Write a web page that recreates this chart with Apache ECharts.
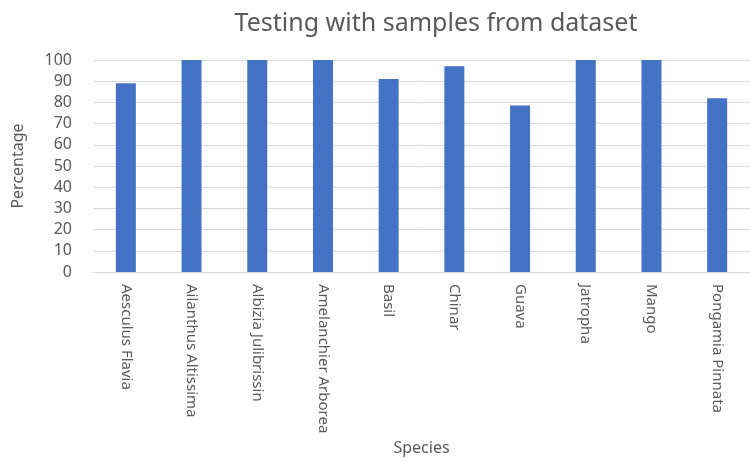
<!DOCTYPE html>
<html>
<head>
<meta charset="utf-8">
<script src="https://cdn.jsdelivr.net/npm/echarts@6/dist/echarts.min.js"></script>
<style>
  html, body { margin: 0; padding: 0; background: #ffffff; }
  #chart { width: 750px; height: 461px; }
</style>
</head>
<body>
<div id="chart"></div>
<script>
// Recognition accuracy per species
const species = [
  'Aesculus Flavia', 'Ailanthus Altissima', 'Albizia Julibrissin',
  'Amelanchier Arborea', 'Basil', 'Chinar', 'Guava',
  'Jatropha', 'Mango', 'Pongamia Pinnata'
];
const percentage = [89, 100, 100, 100, 91, 97, 78.5, 100, 100, 82];
const yTicks = [0, 10, 20, 30, 40, 50, 60, 70, 80, 90, 100];

const textColor = '#595959';
const gridColor = '#d9d9d9';
const font = 'Noto Sans';

const chart = echarts.init(document.getElementById('chart'), null, { renderer: 'canvas' });
chart.setOption({
  backgroundColor: '#ffffff',
  animation: false,
  title: {
    text: 'Testing with samples from dataset',
    left: 431,
    top: 6,
    textAlign: 'center',
    textStyle: { color: textColor, fontFamily: font, fontSize: 25, fontWeight: 'normal' }
  },
  grid: { left: 93, top: 60, width: 666, height: 212, containLabel: false },
  xAxis: {
    type: 'category',
    data: species,
    name: 'Species',
    nameLocation: 'middle',
    nameGap: 168,
    nameTextStyle: { color: textColor, fontFamily: font, fontSize: 16 },
    axisLine: { show: true, lineStyle: { color: gridColor, width: 1 } },
    axisTick: { show: false },
    axisLabel: {
      interval: 0,
      rotate: -90,
      margin: 12,
      color: textColor,
      fontFamily: font,
      fontSize: 15
    }
  },
  yAxis: {
    type: 'value',
    min: yTicks[0],
    max: yTicks[yTicks.length - 1],
    interval: 10,
    name: 'Percentage',
    nameLocation: 'middle',
    nameGap: 67,
    nameRotate: 90,
    nameTextStyle: { color: textColor, fontFamily: font, fontSize: 16 },
    axisLine: { show: false },
    axisTick: { show: false },
    axisLabel: { color: textColor, fontFamily: font, fontSize: 16, margin: 21 },
    splitLine: { lineStyle: { color: gridColor, width: 1 } }
  },
  series: [{
    type: 'bar',
    data: percentage,
    barWidth: 20,
    itemStyle: { color: '#4472c4' }
  }]
});
</script>
</body>
</html>
